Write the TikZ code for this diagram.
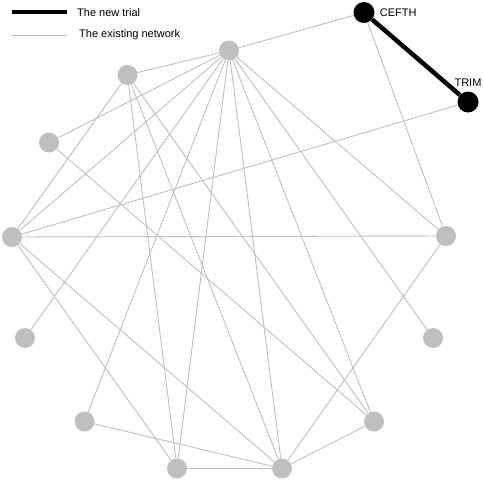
\documentclass[tikz,border=0pt]{standalone}
\usepackage{fontspec}
\setmainfont{Liberation Sans}
\usepackage{xcolor}
\usetikzlibrary{positioning,backgrounds}
\definecolor{netgray}{RGB}{191,191,191}

\begin{document}
\begin{tikzpicture}[
  x=1pt, y=-1pt,
  font=\fontsize{11}{13}\selectfont,
  node distance=5pt,
  trt/.style={circle, fill=netgray, minimum size=20pt, inner sep=0pt},
  newtrt/.style={circle, fill=black, minimum size=21pt, inner sep=0pt},
  lbl/.style={inner sep=0pt, anchor=west},
  oldarm/.style={draw=netgray, line width=0.9pt},
  newarm/.style={draw=black, line width=4.5pt}
]
\useasboundingbox (0,0) rectangle (484,482);

% legend
\coordinate (newa) at (12,12);
\coordinate (newb) at (67,12);
\coordinate (olda) at (12,35);
\coordinate (oldb) at (67,35);
\draw[newarm] (newa) -- (newb);
\draw[oldarm] (olda) -- (oldb);
\node[lbl] (newtxt) at (77,12.5) {The new trial};
\node[lbl] (oldtxt) at (79,35) {The existing network};

% treatments
\node[newtrt] (cefth) at (364,12.5) {};
\node[newtrt] (trim) at (468,102) {};
\node[lbl, right=5pt of cefth] (cefthlbl) {CEFTH};
\node[inner sep=0pt, above=5pt of trim] (trimlbl) {TRIM};
\node[trt] (t1) at (229,50.5) {};
\node[trt] (t2) at (127.5,75) {};
\node[trt] (t3) at (49,142.5) {};
\node[trt] (t4) at (12,237) {};
\node[trt] (t5) at (25,338) {};
\node[trt] (t6) at (84.5,421.5) {};
\node[trt] (t7) at (177,468.5) {};
\node[trt] (t8) at (282,468.5) {};
\node[trt] (t9) at (374,421.5) {};
\node[trt] (t10) at (433,338) {};
\node[trt] (t11) at (446,236) {};

% comparisons
\begin{scope}[on background layer]
\foreach \u/\v in {cefth/t1, cefth/t11, trim/t4,
    t1/t2, t1/t3, t1/t4, t1/t5, t1/t6, t1/t7, t1/t8, t1/t9, t1/t10, t1/t11,
    t2/t4, t2/t7, t2/t8, t2/t9, t3/t9,
    t4/t11, t4/t7, t4/t8, t11/t8, t6/t8, t9/t8, t7/t8}
  \draw[oldarm] (\u) -- (\v);
\draw[newarm] (cefth) -- (trim);
\end{scope}
\end{tikzpicture}
\end{document}
